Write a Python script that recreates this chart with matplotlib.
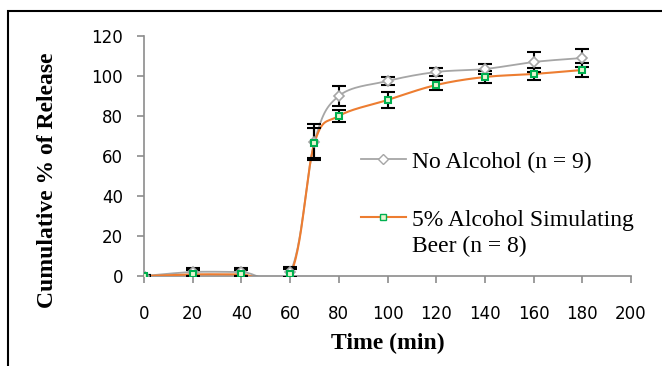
import numpy as np
import matplotlib
matplotlib.use('Agg')
from matplotlib import pyplot as plt
from matplotlib.patches import Rectangle

# Release data (minutes, % released, SD)
time = [0, 20, 40, 60, 70, 80, 100, 120, 140, 160, 180]
no_alcohol = [0, 2, 2, 2, 67, 90, 97.5, 102, 103.5, 107, 109]
no_alcohol_sd = [0.5, 2, 2, 2.5, 9, 5, 2, 2, 2.5, 5, 4.5]
beer = [0, 0.8, 0.8, 0.8, 66.5, 80, 88, 95.5, 99.5, 101, 103]
beer_sd = [0.5, 2, 2, 2.5, 7.5, 3, 4, 2.5, 3, 3, 3.5]

labels = ['No Alcohol (n = 9)', '5% Alcohol Simulating', 'Beer (n = 8)']


def smooth(x, y, n=30):
    # Bezier smoothing like spreadsheet "smoothed line"
    p = np.column_stack([x, y]).astype(float)
    p = np.vstack([p[0], p, p[-1]])
    out = []
    t = np.linspace(0, 1, n)[:, None]
    for i in range(1, len(p) - 2):
        p0, p3 = p[i], p[i + 1]
        p1 = p0 + (p[i + 1] - p[i - 1]) / 6
        p2 = p3 - (p[i + 2] - p[i]) / 6
        seg = ((1 - t) ** 3) * p0 + 3 * ((1 - t) ** 2) * t * p1 + 3 * (1 - t) * t ** 2 * p2 + t ** 3 * p3
        out.append(seg)
    out = np.vstack(out)
    return out[:, 0], out[:, 1]


plt.rcParams['font.family'] = 'Liberation Serif'

fig = plt.figure(figsize=(6.62, 3.66), dpi=100)
fig.patches.append(Rectangle((8 / 662, -0.1), 1.2, 1 - 11 / 366 + 0.1,
                             transform=fig.transFigure, fill=False,
                             edgecolor='black', linewidth=1.5))
ax = fig.add_axes([144 / 662, 1 - 276 / 366, 487 / 662, 240 / 366])

gray = '#a6a6a6'
orange = '#ed7d31'
green = '#00b050'

sx, sy = smooth(time, no_alcohol)
ax.plot(sx, sy, color=gray, lw=1.3, zorder=2)
sx, sy = smooth(time, beer)
ax.plot(sx, sy, color=orange, lw=1.5, zorder=3)

ax.errorbar(time, no_alcohol, yerr=no_alcohol_sd, fmt='none', ecolor='black',
            elinewidth=1.5, capsize=5, capthick=1.5, zorder=4)
ax.errorbar(time, beer, yerr=beer_sd, fmt='none', ecolor='black',
            elinewidth=1.5, capsize=5, capthick=1.5, zorder=4)
ax.plot(time, no_alcohol, ls='none', marker='D', ms=5, mfc='white',
        mec=gray, mew=1.2, zorder=5)
ax.plot(time, beer, ls='none', marker='s', ms=5, mfc='#e8f5d0',
        mec=green, mew=1.5, zorder=6)

# legend handles
h1, = ax.plot([], [], color=gray, lw=1.3, marker='D', ms=5, mfc='white', mec=gray)
h2, = ax.plot([], [], color=orange, lw=1.5, marker='s', ms=4, mfc='#e8f5d0', mec=green)
leg = ax.legend([h1, h2], labels[:2], loc='upper left', bbox_to_anchor=(0.426, 0.56),
                frameon=False, fontsize=17, handlelength=1.9, handletextpad=0.25,
                labelspacing=1.55, borderaxespad=0)

ax.set_xlim(0, 200)
ax.set_ylim(0, 120)
ax.set_xticks(range(0, 201, 20))
ax.set_yticks(range(0, 121, 20))
for s in ['top', 'right']:
    ax.spines[s].set_visible(False)
for s in ['left', 'bottom']:
    ax.spines[s].set_color('#8c8c8c')
    ax.spines[s].set_linewidth(1.2)
ax.tick_params(direction='out', length=5, width=1.2, color='#8c8c8c')
ax.tick_params(axis='x', pad=16)
ax.tick_params(axis='y', pad=10)
for lab in ax.get_xticklabels() + ax.get_yticklabels():
    lab.set_family('DejaVu Sans')
    lab.set_fontsize(12)

ax.set_xlabel('Time (min)', fontsize=17, fontweight='bold', labelpad=7)
ax.set_ylabel('Cumulative % of Release', fontsize=17, fontweight='bold')
ax.yaxis.set_label_coords(-0.1766, 0.4)

# second line of the beer label, under the legend text
fig.canvas.draw()
bb = leg.get_texts()[1].get_window_extent()
x0, y0 = ax.transAxes.inverted().transform((bb.x0, bb.y0))
ax.text(x0, y0 - 0.02, labels[2], transform=ax.transAxes, fontsize=17,
        ha='left', va='top')

fig.savefig('out.png', dpi=100)
